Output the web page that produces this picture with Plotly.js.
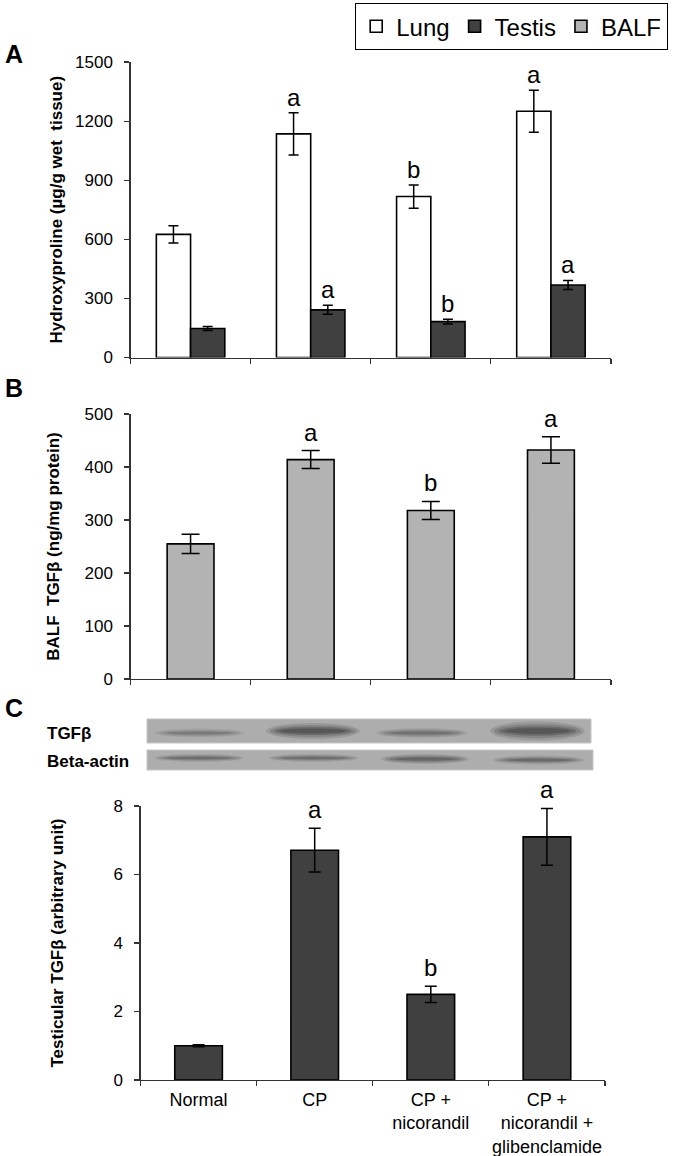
<!DOCTYPE html>
<html><head><meta charset="utf-8">
<script src="https://cdn.plot.ly/plotly-3.0.1.min.js"></script>
<style>html,body{margin:0;padding:0;background:#fff}</style>
</head><body>
<div id="chart" style="width:675px;height:1156px"></div>
<script>
// ---------- data ----------
const groups = ['Normal', 'CP', 'CP +<br>nicorandil', 'CP +<br>nicorandil +<br>glibenclamide'];
const lungHyp = [625, 1135, 817, 1250];
const lungHypErr = [44, 107, 59, 107];
const testisHyp = [147, 242, 182, 368];
const testisHypErr = [10, 23, 12, 23];
const balfTgf = [255, 414, 318, 432];
const balfTgfErr = [18, 17, 17, 25];
const testisTgf = [1.0, 6.71, 2.5, 7.1];
const testisTgfErr = [0.03, 0.64, 0.24, 0.83];
const lungLetters = ['', 'a', 'b', 'a'];
const testisLetters = ['', 'a', 'b', 'a'];
const balfLetters = ['', 'a', 'b', 'a'];
const tgfLetters = ['', 'a', 'b', 'a'];
// relative blot band intensities (0..1) per lane
const tgfBand = [0.4, 0.85, 0.5, 0.85];
const actinBand = [0.55, 0.55, 0.65, 0.6];

// ---------- helpers ----------
const W = 675, H = 1156;
const px = x => x / W;
const py = y => 1 - y / H;
const DARK = '#404040', LIGHT = '#b3b3b3';
const FONT = 'Liberation Sans, Arial, sans-serif';
const tickFont = {family: FONT, size: 17, color: '#000'};
const titleFont = {family: FONT, size: 17, color: '#000'};
const lineCol = '#333';
const aW = 0.285, bW = 0.39, cW = 0.41;

const traces = [
  {type: 'bar', name: 'Lung', x: groups, y: lungHyp, xaxis: 'x', yaxis: 'y',
   width: aW, offset: -aW,
   marker: {color: '#ffffff', line: {color: '#000', width: 1.6}},
   error_y: {type: 'data', array: lungHypErr, color: '#000', thickness: 1.5, width: 5}},
  {type: 'bar', name: 'Testis', x: groups, y: testisHyp, xaxis: 'x', yaxis: 'y',
   width: aW, offset: 0,
   marker: {color: DARK, line: {color: '#000', width: 1.6}},
   error_y: {type: 'data', array: testisHypErr, color: '#000', thickness: 1.5, width: 5}},
  {type: 'bar', name: 'BALF', x: groups, y: balfTgf, xaxis: 'x2', yaxis: 'y2',
   width: bW,
   marker: {color: LIGHT, line: {color: '#000', width: 1.6}},
   error_y: {type: 'data', array: balfTgfErr, color: '#000', thickness: 1.5, width: 9}},
  {type: 'bar', name: 'Testicular', x: groups, y: testisTgf, xaxis: 'x3', yaxis: 'y3',
   width: cW, showlegend: false,
   marker: {color: DARK, line: {color: '#000', width: 1.6}},
   error_y: {type: 'data', array: testisTgfErr, color: '#000', thickness: 1.5, width: 6}}
];

const annotations = [];
const letterFont = {family: FONT, size: 24, color: '#000'};
function addLetters(letters, vals, errs, xref, yref, dx, shift) {
  letters.forEach((t, i) => {
    if (!t) return;
    annotations.push({xref: xref, yref: yref, x: i + dx, y: vals[i] + errs[i], text: t,
      showarrow: false, yanchor: 'bottom', xanchor: 'center', yshift: shift, font: letterFont});
  });
}
addLetters(lungLetters, lungHyp, lungHypErr, 'x', 'y', -aW / 2, 0);
addLetters(testisLetters, testisHyp, testisHypErr, 'x', 'y', aW / 2, 0);
addLetters(balfLetters, balfTgf, balfTgfErr, 'x2', 'y2', 0, 3);
addLetters(tgfLetters, testisTgf, testisTgfErr, 'x3', 'y3', 0, 3);

// panel letters
const panelFont = {family: FONT, size: 25, color: '#000'};
[['A', 54], ['B', 388], ['C', 708]].forEach(([t, y]) => {
  annotations.push({xref: 'paper', yref: 'paper', x: px(3), y: py(y), xanchor: 'left', yanchor: 'middle',
    text: '<b>' + t + '</b>', showarrow: false, font: panelFont});
});
// blot labels
const blotFont = {family: FONT, size: 17, color: '#000'};
annotations.push({xref: 'paper', yref: 'paper', x: px(45), y: py(733), xanchor: 'left', yanchor: 'middle',
  text: '<b>TGFβ</b>', showarrow: false, font: blotFont});
annotations.push({xref: 'paper', yref: 'paper', x: px(45), y: py(761), xanchor: 'left', yanchor: 'middle',
  text: '<b>Beta-actin</b>', showarrow: false, font: blotFont});

// ---------- western blot drawn with shapes ----------
const shapes = [];
function strip(x0, x1, y0, y1) {
  shapes.push({type: 'rect', xref: 'paper', yref: 'paper', x0: px(x0), x1: px(x1), y0: py(y1), y1: py(y0),
    fillcolor: '#adadad', line: {color: '#c4c4c4', width: 1}, layer: 'above'});
}
function band(x0, x1, yc, h, k) {
  const layers = [[1.0, 1.0, 0.18], [0.92, 0.75, 0.25], [0.82, 0.5, 0.35], [0.7, 0.3, 0.4]];
  layers.forEach(([sw, sh, op]) => {
    const cx = (x0 + x1) / 2, hw = (x1 - x0) / 2 * sw, hh = h / 2 * sh;
    shapes.push({type: 'circle', xref: 'paper', yref: 'paper',
      x0: px(cx - hw), x1: px(cx + hw), y0: py(yc + hh), y1: py(yc - hh),
      fillcolor: '#333333', opacity: op * k, line: {width: 0}, layer: 'above'});
  });
}
strip(147, 591, 719, 743);
strip(147, 593, 750, 770);
const tgfLanes = [[154, 245, 733, 9], [266, 360, 731, 16], [376, 468, 733, 10], [490, 585, 731, 19]];
const actLanes = [[154, 244, 758, 8], [268, 359, 758, 8], [381, 469, 759, 10], [493, 584, 760, 9]];
tgfLanes.forEach((l, i) => band(l[0], l[1], l[2], l[3], tgfBand[i]));
actLanes.forEach((l, i) => band(l[0], l[1], l[2], l[3], actinBand[i]));

// ---------- layout ----------
function xax(domain, anchor, labels) {
  return {domain: domain, anchor: anchor, type: 'category', showline: true, linecolor: lineCol, linewidth: 1.2,
    ticks: 'outside', tickson: 'boundaries', ticklen: 5, tickcolor: lineCol, tickwidth: 1.2,
    showticklabels: labels, tickangle: 0, tickfont: {family: FONT, size: 18, color: '#000'},
    showgrid: false, zeroline: false, fixedrange: true, automargin: false, ticklabelstandoff: 3};
}
function yax(domain, anchor, range, dtick, title, standoff) {
  return {domain: domain, anchor: anchor, range: range, dtick: dtick, showline: true, linecolor: lineCol, linewidth: 1.2,
    ticks: 'outside', ticklen: 5, tickcolor: lineCol, tickwidth: 1.2, tickfont: tickFont,
    showgrid: false, zeroline: false, automargin: false, ticklabelstandoff: 8,
    title: {text: title, font: titleFont, standoff: standoff}};
}

const layout = {
  width: W, height: H, margin: {l: 0, r: 0, t: 0, b: 0},
  paper_bgcolor: '#fff', plot_bgcolor: 'rgba(0,0,0,0)',
  barmode: 'overlay', showlegend: true,
  legend: {orientation: 'h', x: px(355), y: py(3), xanchor: 'left', yanchor: 'top',
    bordercolor: '#000', borderwidth: 1.2, bgcolor: '#fff',
    font: {family: FONT, size: 24, color: '#000'}, itemwidth: 30, traceorder: 'normal'},
  xaxis: xax([px(130.5), px(611)], 'y', false),
  yaxis: yax([py(357.5), py(62)], 'x', [0, 1500], 300, '<b>Hydroxyproline (µg/g wet&nbsp; tissue)</b>', 8),
  xaxis2: xax([px(130.5), px(611)], 'y2', false),
  yaxis2: yax([py(679), py(414)], 'x2', [0, 500], 100, '<b>BALF&nbsp; TGFβ (ng/mg protein)</b>', 20),
  xaxis3: xax([px(140.5), px(605)], 'y3', true),
  yaxis3: yax([py(1080), py(806)], 'x3', [0, 8], 2, '<b>Testicular TGFβ (arbitrary unit)</b>', 45),
  annotations: annotations,
  shapes: shapes
};

Plotly.newPlot('chart', traces, layout, {staticPlot: true, displayModeBar: false});
</script>
</body></html>
